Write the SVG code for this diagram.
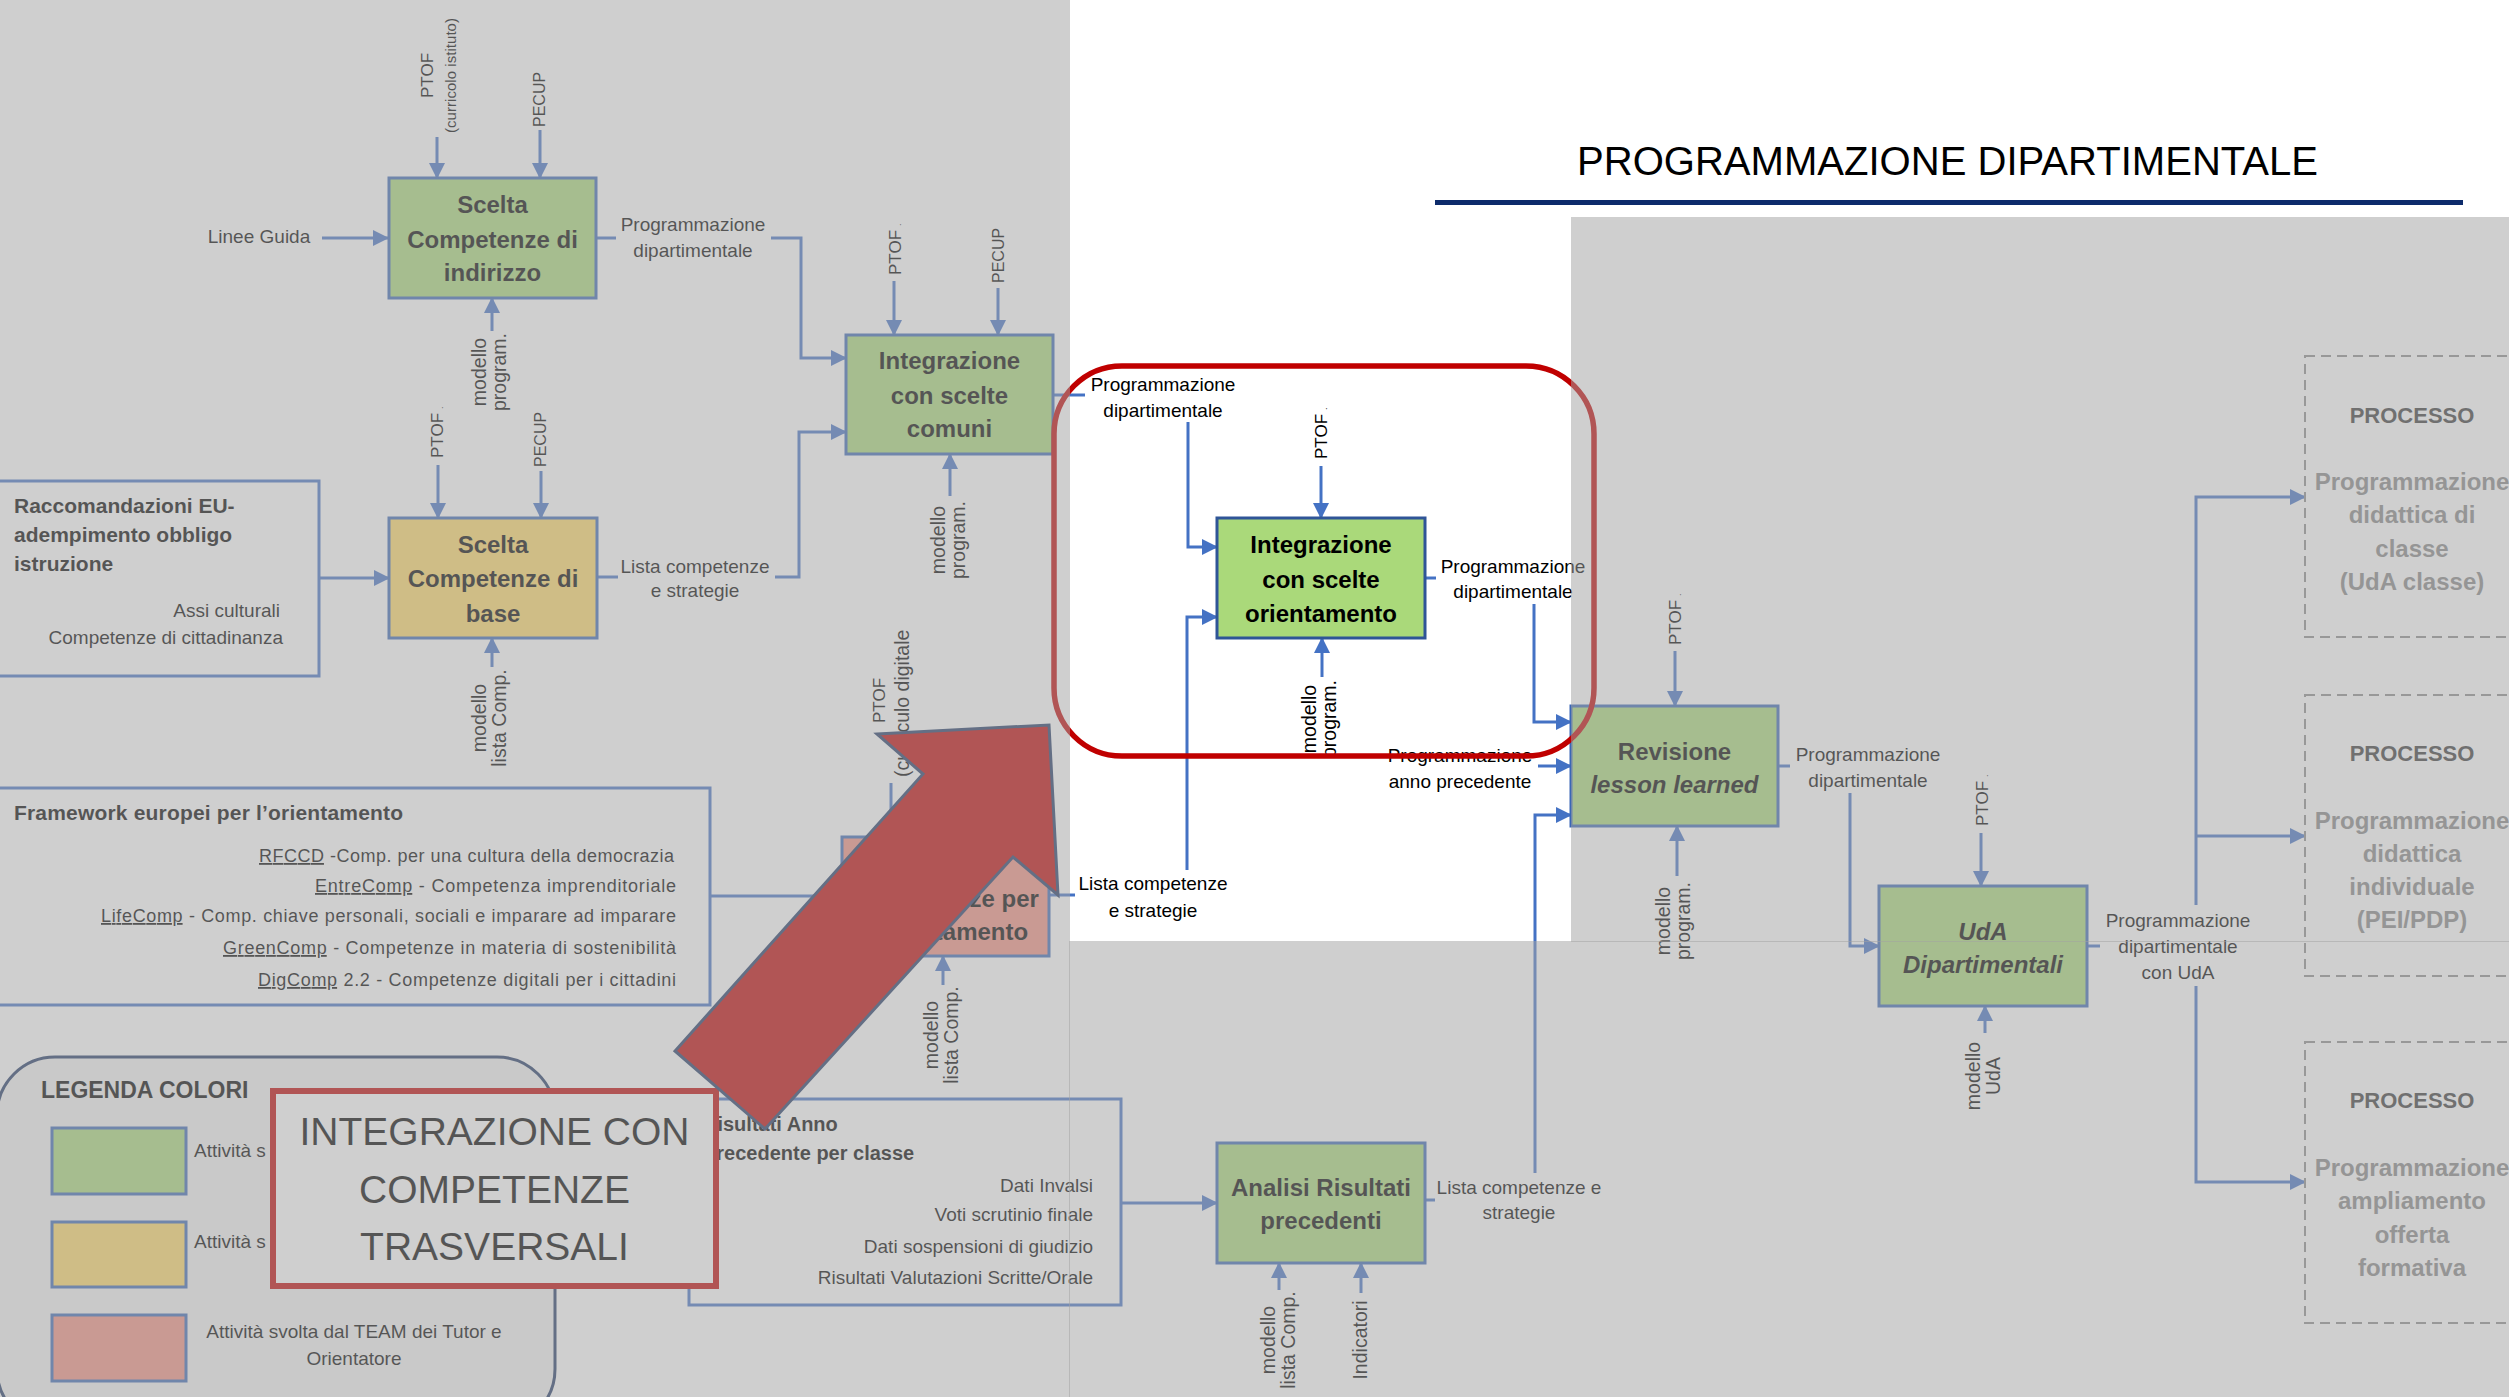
<svg xmlns="http://www.w3.org/2000/svg" width="2509" height="1397" viewBox="0 0 2509 1397">
<defs>
<marker id="ah" markerUnits="userSpaceOnUse" markerWidth="16" markerHeight="16" refX="15" refY="8" orient="auto"><path d="M0,0 L16,8 L0,16 z" fill="#4472c4"/></marker>
<style>
.lb{font-family:"Liberation Sans",Arial,sans-serif;font-size:19px;fill:#000}
.mid{text-anchor:middle}
.end{text-anchor:end}
.bd{font-weight:bold}
.nt{font-family:"Liberation Sans",Arial,sans-serif;font-size:24px;font-weight:bold;fill:#000;text-anchor:middle}
.nb{stroke:#3a66b5;stroke-width:3}
.green{fill:#aad97a}
.tan{fill:#ffd966}
.pink{fill:#f29083}
.cn{fill:none;stroke:#4472c4;stroke-width:3}
.rl{font-family:"Liberation Sans",Arial,sans-serif;font-size:19.5px;fill:#000;text-anchor:middle}
.rs{font-family:"Liberation Sans",Arial,sans-serif;font-size:17px;fill:#000;text-anchor:start}
.box{fill:#fff;stroke:#4472c4;stroke-width:3}
.proc{fill:none;stroke:#8c8c8c;stroke-width:2;stroke-dasharray:10 6}
.ph{font-family:"Liberation Sans",Arial,sans-serif;font-weight:bold;font-size:22px;fill:#3a3a3a;text-anchor:middle}
.pt{font-family:"Liberation Sans",Arial,sans-serif;font-weight:bold;font-size:24px;fill:#878787;text-anchor:middle}
.ov{fill:#a3a3a3;fill-opacity:0.52}
</style>
</defs>
<rect x="0" y="0" width="2509" height="1397" fill="#fff"/>

<!-- title -->
<g id="title">
<text x="1577" y="175" font-family="Liberation Sans, Arial, sans-serif" font-size="40" fill="#000" textLength="741" lengthAdjust="spacingAndGlyphs">PROGRAMMAZIONE DIPARTIMENTALE</text>
<rect x="1435" y="200" width="1028" height="5" fill="#0d2b6b"/>
</g>

<!-- side text boxes -->
<g id="box-raccomandazioni">
<rect class="box" x="-3" y="481" width="322" height="195"/>
<text class="lb bd" style="font-size:21px"><tspan x="14" y="513">Raccomandazioni EU-</tspan><tspan x="14" y="542">adempimento obbligo</tspan><tspan x="14" y="571">istruzione</tspan></text>
<text class="lb end" x="280" y="617">Assi culturali</text>
<text class="lb end" x="283" y="644">Competenze di cittadinanza</text>
</g>

<g id="box-framework">
<rect class="box" x="-3" y="788" width="713" height="217"/>
<text class="lb bd" x="14" y="820" style="font-size:21px" textLength="389">Framework europei per l’orientamento</text>
<text class="lb" x="259" y="862" style="font-size:18px" textLength="415"><tspan text-decoration="underline">RFCCD</tspan> -Comp. per una cultura della democrazia</text>
<text class="lb" x="315" y="892" style="font-size:18px" textLength="361"><tspan text-decoration="underline">EntreComp</tspan> - Competenza imprenditoriale</text>
<text class="lb" x="101" y="922" style="font-size:18px" textLength="575"><tspan text-decoration="underline">LifeComp</tspan> - Comp. chiave personali, sociali e imparare ad imparare</text>
<text class="lb" x="223" y="954" style="font-size:18px" textLength="453"><tspan text-decoration="underline">GreenComp</tspan> - Competenze in materia di sostenibilità</text>
<text class="lb" x="258" y="986" style="font-size:18px" textLength="418"><tspan text-decoration="underline">DigComp</tspan> 2.2 - Competenze digitali per i cittadini</text>
</g>

<g id="box-risultati">
<rect class="box" x="689" y="1099" width="432" height="206"/>
<text class="lb bd" x="703" y="1131" style="font-size:20px">Risultati Anno</text>
<text class="lb bd" x="703" y="1160" style="font-size:20px">Precedente per classe</text>
<text class="lb end" x="1093" y="1192">Dati Invalsi</text>
<text class="lb end" x="1093" y="1221">Voti scrutinio finale</text>
<text class="lb end" x="1093" y="1253">Dati sospensioni di giudizio</text>
<text class="lb end" x="1093" y="1284">Risultati Valutazioni Scritte/Orale</text>
</g>

<g id="legend">
<rect x="-3" y="1057" width="558" height="370" rx="58" ry="58" fill="#f2f2f2" stroke="#203864" stroke-width="3"/>
<text class="lb bd" x="41" y="1098" style="font-size:23px">LEGENDA COLORI</text>
<rect class="green nb" x="52" y="1128" width="134" height="66"/>
<rect class="tan nb" x="52" y="1222" width="134" height="65"/>
<rect class="pink nb" x="52" y="1315" width="134" height="66"/>
<text class="lb" x="194" y="1157">Attività s</text>
<text class="lb" x="194" y="1248">Attività s</text>
<text class="lb mid" x="354" y="1338">Attività svolta dal TEAM dei Tutor e</text>
<text class="lb mid" x="354" y="1365">Orientatore</text>
</g>

<!-- connectors -->
<g id="connectors">
<path class="cn" d="M322,238 H388" marker-end="url(#ah)"/>
<path class="cn" d="M437,137 V178" marker-end="url(#ah)"/>
<path class="cn" d="M540,130 V178" marker-end="url(#ah)"/>
<path class="cn" d="M492,331 V298" marker-end="url(#ah)"/>
<path class="cn" d="M596,238 H616"/>
<path class="cn" d="M771,238 H801 V358 H846" marker-end="url(#ah)"/>
<path class="cn" d="M894,281 V335" marker-end="url(#ah)"/>
<path class="cn" d="M998,288 V335" marker-end="url(#ah)"/>
<path class="cn" d="M597,577 H618"/>
<path class="cn" d="M775,577 H799 V432 H846" marker-end="url(#ah)"/>
<path class="cn" d="M950,496 V454" marker-end="url(#ah)"/>
<path class="cn" d="M438,465 V518" marker-end="url(#ah)"/>
<path class="cn" d="M541,471 V518" marker-end="url(#ah)"/>
<path class="cn" d="M492,667 V638" marker-end="url(#ah)"/>
<path class="cn" d="M319,578 H389" marker-end="url(#ah)"/>
<path class="cn" d="M710,896 H842" marker-end="url(#ah)"/>
<path class="cn" d="M891,783 V837" marker-end="url(#ah)"/>
<path class="cn" d="M943,985 V956" marker-end="url(#ah)"/>
<path class="cn" d="M1049,895 H1075"/>
<path class="cn" d="M1187,870 V617 H1217" marker-end="url(#ah)"/>
<path class="cn" d="M1053,395 H1085"/>
<path class="cn" d="M1188,422 V547 H1217" marker-end="url(#ah)"/>
<path class="cn" d="M1321,466 V518" marker-end="url(#ah)"/>
<path class="cn" d="M1322,677 V638" marker-end="url(#ah)"/>
<path class="cn" d="M1425,578 H1436"/>
<path class="cn" d="M1534,604 V722 H1571" marker-end="url(#ah)"/>
<path class="cn" d="M1538,766 H1571" marker-end="url(#ah)"/>
<path class="cn" d="M1425,1200 H1435"/>
<path class="cn" d="M1535,1173 V815 H1571" marker-end="url(#ah)"/>
<path class="cn" d="M1121,1203 H1217" marker-end="url(#ah)"/>
<path class="cn" d="M1279,1290 V1263" marker-end="url(#ah)"/>
<path class="cn" d="M1361,1293 V1263" marker-end="url(#ah)"/>
<path class="cn" d="M1675,651 V706" marker-end="url(#ah)"/>
<path class="cn" d="M1677,876 V826" marker-end="url(#ah)"/>
<path class="cn" d="M1778,766 H1790"/>
<path class="cn" d="M1850,793 V946 H1879" marker-end="url(#ah)"/>
<path class="cn" d="M1981,833 V886" marker-end="url(#ah)"/>
<path class="cn" d="M1985,1033 V1006" marker-end="url(#ah)"/>
<path class="cn" d="M2087,946 H2100"/>
<path class="cn" d="M2196,905 V497 H2305" marker-end="url(#ah)"/>
<path class="cn" d="M2196,836 H2305" marker-end="url(#ah)"/>
<path class="cn" d="M2196,986 V1182 H2305" marker-end="url(#ah)"/>
</g>

<!-- connector labels -->
<g id="labels">
<text class="lb mid" x="259" y="243">Linee Guida</text>
<text class="lb mid"><tspan x="693" y="231">Programmazione</tspan><tspan x="693" y="257">dipartimentale</tspan></text>
<text class="lb mid"><tspan x="695" y="573">Lista competenze</tspan><tspan x="695" y="597">e strategie</tspan></text>
<text class="lb mid"><tspan x="1163" y="391">Programmazione</tspan><tspan x="1163" y="417">dipartimentale</tspan></text>
<text class="lb mid"><tspan x="1513" y="573">Programmazione</tspan><tspan x="1513" y="598">dipartimentale</tspan></text>
<text class="lb mid"><tspan x="1460" y="762">Programmazione</tspan><tspan x="1460" y="788">anno precedente</tspan></text>
<text class="lb mid"><tspan x="1153" y="890">Lista competenze</tspan><tspan x="1153" y="917">e strategie</tspan></text>
<text class="lb mid"><tspan x="1519" y="1194">Lista competenze e</tspan><tspan x="1519" y="1219">strategie</tspan></text>
<text class="lb mid"><tspan x="1868" y="761">Programmazione</tspan><tspan x="1868" y="787">dipartimentale</tspan></text>
<text class="lb mid"><tspan x="2178" y="927">Programmazione</tspan><tspan x="2178" y="953">dipartimentale</tspan><tspan x="2178" y="979">con UdA</tspan></text>

<text class="rs" transform="translate(433,98) rotate(-90)">PTOF</text>
<text class="rs" style="font-size:15px" textLength="115" transform="translate(456,133) rotate(-90)">(curricolo istituto)</text>
<text class="rs" style="font-size:16px" transform="translate(545,127) rotate(-90)">PECUP</text>
<text class="rs" transform="translate(901,275) rotate(-90)">PTOF<tspan style="font-size:9px" dx="4">.</tspan></text>
<text class="rs" style="font-size:16px" transform="translate(1004,283) rotate(-90)">PECUP</text>
<text class="rs" transform="translate(443,458) rotate(-90)">PTOF<tspan style="font-size:9px" dx="4">.</tspan></text>
<text class="rs" style="font-size:16px" transform="translate(546,467) rotate(-90)">PECUP</text>
<text class="rs" transform="translate(885,723) rotate(-90)">PTOF</text>
<text class="rs" style="font-size:19.5px" transform="translate(909,777) rotate(-90)">(curriculo digitale</text>
<text class="rs" transform="translate(1327,459) rotate(-90)">PTOF<tspan style="font-size:9px" dx="4">.</tspan></text>
<text class="rs" transform="translate(1681,645) rotate(-90)">PTOF<tspan style="font-size:9px" dx="4">.</tspan></text>
<text class="rs" transform="translate(1988,826) rotate(-90)">PTOF<tspan style="font-size:9px" dx="4">.</tspan></text>

<text class="rl" transform="translate(486,372) rotate(-90)"><tspan x="0" y="0">modello</tspan><tspan x="0" y="20">program.</tspan></text>
<text class="rl" transform="translate(486,718) rotate(-90)"><tspan x="0" y="0">modello</tspan><tspan x="0" y="20">lista Comp.</tspan></text>
<text class="rl" transform="translate(945,540) rotate(-90)"><tspan x="0" y="0">modello</tspan><tspan x="0" y="20">program.</tspan></text>
<text class="rl" transform="translate(938,1035) rotate(-90)"><tspan x="0" y="0">modello</tspan><tspan x="0" y="20">lista Comp.</tspan></text>
<text class="rl" transform="translate(1316,719) rotate(-90)"><tspan x="0" y="0">modello</tspan><tspan x="0" y="20">program.</tspan></text>
<text class="rl" transform="translate(1670,921) rotate(-90)"><tspan x="0" y="0">modello</tspan><tspan x="0" y="20">program.</tspan></text>
<text class="rl" transform="translate(1980,1076) rotate(-90)"><tspan x="0" y="0">modello</tspan><tspan x="0" y="20">UdA</tspan></text>
<text class="rl" transform="translate(1275,1340) rotate(-90)"><tspan x="0" y="0">modello</tspan><tspan x="0" y="20">lista Comp.</tspan></text>
<text class="rl" transform="translate(1367,1340) rotate(-90)">Indicatori</text>
</g>

<!-- nodes -->
<g id="node-indirizzo">
<rect class="green nb" x="389" y="178" width="207" height="120"/>
<text class="nt"><tspan x="492.5" y="213">Scelta</tspan><tspan x="492.5" y="248">Competenze di</tspan><tspan x="492.5" y="281">indirizzo</tspan></text>
</g>
<g id="node-base">
<rect class="tan nb" x="389" y="518" width="208" height="120"/>
<text class="nt"><tspan x="493" y="553">Scelta</tspan><tspan x="493" y="587">Competenze di</tspan><tspan x="493" y="622">base</tspan></text>
</g>
<g id="node-comuni">
<rect class="green nb" x="846" y="335" width="207" height="119"/>
<text class="nt"><tspan x="949.5" y="369">Integrazione</tspan><tspan x="949.5" y="404">con scelte</tspan><tspan x="949.5" y="437">comuni</tspan></text>
</g>
<g id="node-orientamento-pink">
<rect class="pink nb" x="842" y="837" width="207" height="119"/>
<text class="nt"><tspan x="945.5" y="873">Scelta</tspan><tspan x="945.5" y="907">Competenze per</tspan><tspan x="945.5" y="940">l’orientamento</tspan></text>
</g>
<g id="node-orientamento">
<rect class="green" x="1217" y="518" width="208" height="120" stroke="#2f5597" stroke-width="3"/>
<text class="nt"><tspan x="1321" y="553">Integrazione</tspan><tspan x="1321" y="588">con scelte</tspan><tspan x="1321" y="622">orientamento</tspan></text>
</g>
<g id="node-revisione">
<rect class="green nb" x="1571" y="706" width="207" height="120"/>
<text class="nt"><tspan x="1674.5" y="760">Revisione</tspan><tspan x="1674.5" y="793" style="font-style:italic">lesson learned</tspan></text>
</g>
<g id="node-uda">
<rect class="green nb" x="1879" y="886" width="208" height="120"/>
<text class="nt" style="font-style:italic"><tspan x="1983" y="940">UdA</tspan><tspan x="1983" y="973">Dipartimentali</tspan></text>
</g>
<g id="node-analisi">
<rect class="green nb" x="1217" y="1143" width="208" height="120"/>
<text class="nt"><tspan x="1321" y="1196" textLength="180">Analisi Risultati</tspan><tspan x="1321" y="1229">precedenti</tspan></text>
</g>
<g id="node-processo-1">
<rect class="proc" x="2305" y="356" width="240" height="281"/>
<text class="ph" x="2412" y="423">PROCESSO</text>
<text class="pt"><tspan x="2412" y="490">Programmazione</tspan><tspan x="2412" y="523">didattica di</tspan><tspan x="2412" y="557">classe</tspan><tspan x="2412" y="590">(UdA classe)</tspan></text>
</g>
<g id="node-processo-2">
<rect class="proc" x="2305" y="695" width="240" height="281"/>
<text class="ph" x="2412" y="761">PROCESSO</text>
<text class="pt"><tspan x="2412" y="829">Programmazione</tspan><tspan x="2412" y="862">didattica</tspan><tspan x="2412" y="895">individuale</tspan><tspan x="2412" y="928">(PEI/PDP)</tspan></text>
</g>
<g id="node-processo-3">
<rect class="proc" x="2305" y="1042" width="240" height="281"/>
<text class="ph" x="2412" y="1108">PROCESSO</text>
<text class="pt"><tspan x="2412" y="1176">Programmazione</tspan><tspan x="2412" y="1209">ampliamento</tspan><tspan x="2412" y="1243">offerta</tspan><tspan x="2412" y="1276">formativa</tspan></text>
</g>

<!-- highlight frame -->
<rect id="highlight" x="1054" y="366" width="540" height="390" rx="68" ry="68" fill="none" stroke="#c00000" stroke-width="5.5"/>

<g id="callout">
<rect x="273" y="1091" width="443" height="195" fill="#fff" stroke="#c00000" stroke-width="6"/>
<text font-family="Liberation Sans, Arial, sans-serif" font-size="39" fill="#000" text-anchor="middle"><tspan x="494.5" y="1145">INTEGRAZIONE CON</tspan><tspan x="494.5" y="1203">COMPETENZE</tspan><tspan x="494.5" y="1260">TRASVERSALI</tspan></text>
</g>

<polygon id="big-arrow" points="877,734 1049,725 1058,895 1013,857 765,1129 675,1051 923,774" fill="#c00000" stroke="#203864" stroke-width="3" stroke-linejoin="miter"/>

<!-- grey veil -->
<g id="veil">
<rect class="ov" x="0" y="0" width="1070" height="1397"/>
<rect class="ov" x="1571" y="217" width="938" height="725"/>
<rect class="ov" x="1069" y="941" width="1440" height="456"/>
</g>
</svg>
